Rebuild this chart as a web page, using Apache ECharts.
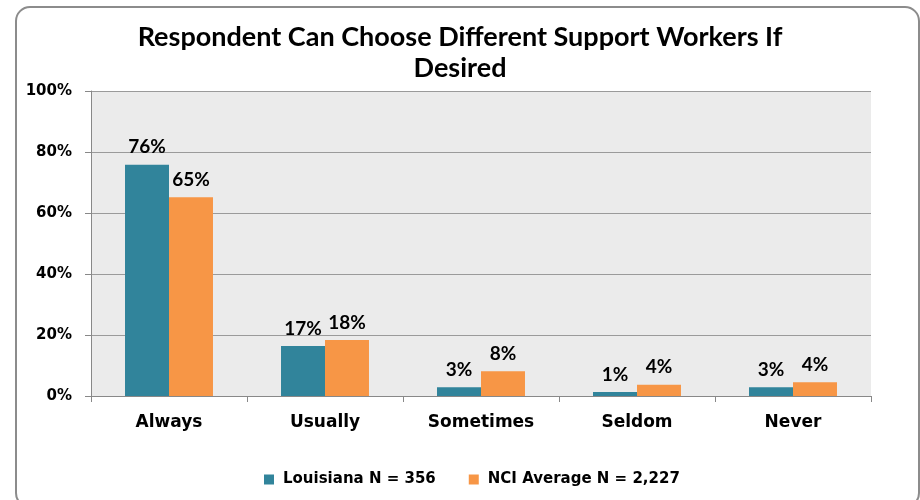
<!DOCTYPE html>
<html><head><meta charset="utf-8">
<script src="https://cdn.jsdelivr.net/npm/echarts@6/dist/echarts.min.js"></script>
<style>html,body{margin:0;padding:0;background:#fff}#c{width:920px;height:500px}</style>
</head><body><div id="c"></div>
<script>
const categories = ['Always', 'Usually', 'Sometimes', 'Seldom', 'Never'];
const louisiana = [75.8, 16.4, 2.9, 1.3, 2.9];
const nciAverage = [65.2, 18.4, 8.1, 3.7, 4.5];
const louisianaLabels = ['76%', '17%', '3%', '1%', '3%'];
const nciLabels = ['65%', '18%', '8%', '4%', '4%'];
const seriesNames = ['Louisiana N = 356', 'NCI Average N = 2,227'];
const yTicks = [0, 20, 40, 60, 80, 100];

const chart = echarts.init(document.getElementById('c'));
const labelFont = {show: true, position: 'top', distance: 8, color: '#000', fontWeight: 'bold', fontSize: 19, fontFamily: 'Lato'};
chart.setOption({
  animation: false,
  title: {
    text: 'Respondent Can Choose Different Support Workers If\nDesired',
    left: 'center', top: 17,
    textStyle: {fontFamily: 'Lato', fontWeight: 'bold', fontSize: 27, color: '#000', lineHeight: 31}
  },
  graphic: [{
    type: 'rect', left: 15, top: 6, z: -10,
    shape: {width: 903, height: 500, r: 14},
    style: {fill: '#fff', stroke: '#8c8c8c', lineWidth: 2}
  }],
  legend: {
    bottom: 8, left: 259, itemWidth: 10, itemHeight: 10, itemGap: 33,
    icon: 'rect',
    textStyle: {fontFamily: 'DejaVu Sans', fontWeight: 'bold', fontSize: 15, color: '#000', padding: [0, 0, 0, 4]}
  },
  grid: {left: 91, right: 49, top: 91, bottom: 104, show: true, backgroundColor: '#EBEBEB', borderWidth: 0},
  xAxis: {
    type: 'category', data: categories,
    axisLine: {lineStyle: {color: '#888'}},
    axisTick: {show: true, length: 6, lineStyle: {color: '#888'}},
    axisLabel: {color: '#000', fontWeight: 'bold', fontSize: 17, fontFamily: 'DejaVu Sans', margin: 18}
  },
  yAxis: {
    type: 'value', min: 0, max: 100, interval: 20,
    axisLine: {show: true, lineStyle: {color: '#888'}},
    axisTick: {show: true, length: 6, lineStyle: {color: '#888'}},
    splitLine: {lineStyle: {color: '#9a9a9a', width: 1}},
    axisLabel: {color: '#000', fontWeight: 'bold', fontSize: 15, fontFamily: 'DejaVu Sans', margin: 19,
      formatter: v => yTicks.includes(v) ? v + '%' : ''}
  },
  series: [
    {name: seriesNames[0], type: 'bar', data: louisiana, barGap: '0%', barCategoryGap: '43.6%',
     itemStyle: {color: '#31849B'},
     label: Object.assign({}, labelFont, {formatter: p => louisianaLabels[p.dataIndex]})},
    {name: seriesNames[1], type: 'bar', data: nciAverage,
     itemStyle: {color: '#F79646'},
     label: Object.assign({}, labelFont, {formatter: p => nciLabels[p.dataIndex]})}
  ]
});
</script></body></html>
